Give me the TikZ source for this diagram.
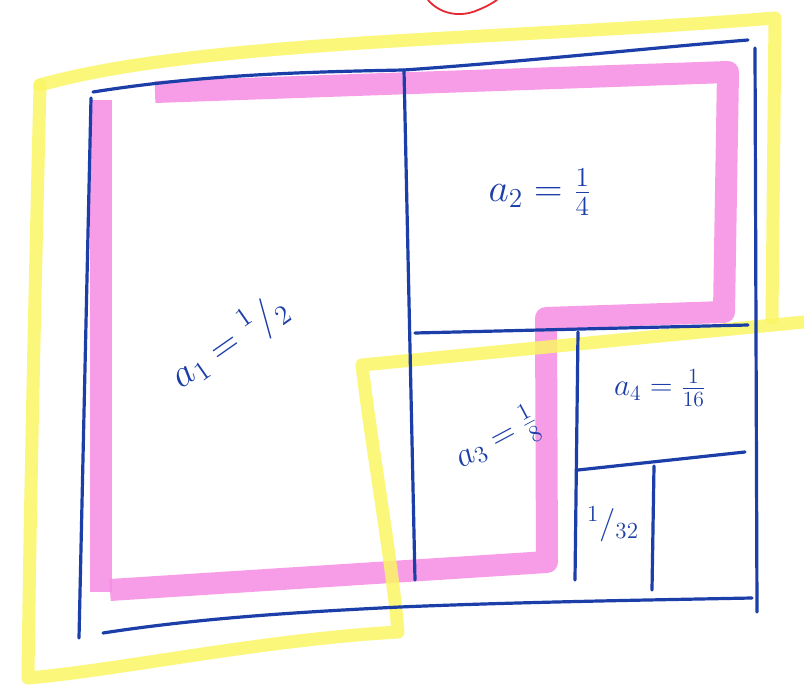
\documentclass[tikz,border=0pt]{standalone}
\usetikzlibrary{calc}
\definecolor{pen}{RGB}{28,62,168}
\definecolor{hlyellow}{RGB}{250,246,100}
\definecolor{hlpink}{RGB}{246,140,228}
\definecolor{redpen}{RGB}{230,40,50}
\tikzset{
  bluepen/.style={draw=pen, line width=3.2pt, line cap=round, line join=round},
  yellowhl/.style={draw=hlyellow, line width=13pt, line cap=round, line join=round, opacity=0.85},
  pinkhl/.style={draw=hlpink, line width=22pt, line cap=butt, line join=round, opacity=0.85},
  lbl/.style={text=pen, font=\huge, inner sep=0pt, transform shape}
}
\begin{document}
\begin{tikzpicture}[x=1pt,y=-1pt]
\useasboundingbox (0,0) rectangle (804,687);
\fill[white] (0,0) rectangle (804,687);
% red scribble at top
\draw[redpen, line width=1.8pt, line cap=round] (428,0) .. controls (440,14) and (460,18) .. (478,10) .. controls (488,6) and (494,2) .. (497,0);
% pink highlighter
\draw[pinkhl] (155,92) -- (728,72) -- (724,312) -- (546,318) -- (547,562) -- (110,590);
\draw[pinkhl] (101,100) -- (101,592);
% yellow highlighter
\draw[yellowhl] (40,85) .. controls (200,40) and (500,40) .. (775,18) -- (772,318);
\draw[yellowhl] (804,322) -- (362,365) .. controls (372,450) and (392,560) .. (398,632) .. controls (260,640) and (120,670) .. (28,678) .. controls (30,500) and (36,250) .. (40,85);
% blue lines
\coordinate (tl) at (93,92);
\coordinate (tm) at (404,70);
\coordinate (tr) at (748,40);
\coordinate (bl) at (103,633);
\coordinate (br) at (752,598);
\draw[bluepen] (tl) .. controls (200,75) and (300,72) .. (tm) .. controls (520,62) and (650,48) .. (tr);
\draw[bluepen] (91,98) -- (79,638);
\draw[bluepen] (755,48) -- (757,612);
\draw[bluepen] (bl) .. controls (200,618) and (300,612) .. (400,607) .. controls (520,602) and (650,600) .. (br);
\draw[bluepen] (tm) -- (415,580);
\draw[bluepen] (415,333) -- (748,325);
\draw[bluepen] (578,332) -- (575,580);
\draw[bluepen] (578,470) -- (745,452);
\draw[bluepen] (654,466) -- (652,590);
% labels
\node[lbl, scale=1.9, rotate=35] (a1) at (230,342) {$a_1 = {}^{1}/_{2}$};
\node[lbl, scale=1.9] (a2) at (540,192) {$a_2 = \frac{1}{4}$};
\node[lbl, scale=1.65, rotate=28] (a3) at (497,440) {$a_3 = \frac{1}{8}$};
\node[lbl, scale=1.5] (a4) at (660,388) {$a_4 = \frac{1}{16}$};
\node[lbl, scale=1.6] (a5) at (613,524) {${}^{1}/_{32}$};
\end{tikzpicture}
\end{document}
